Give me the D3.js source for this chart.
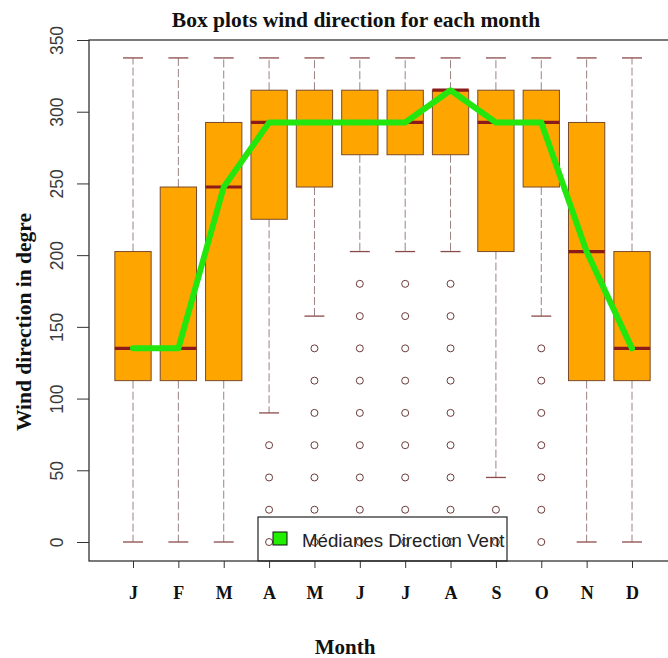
<!DOCTYPE html>
<html>
<head>
<meta charset="utf-8">
<script src="https://cdn.jsdelivr.net/npm/d3@7"></script>
<style>
  body { margin: 0; background: #ffffff; }
  svg { display: block; }
</style>
</head>
<body>
<svg id="chart" width="668" height="658"></svg>
<script>
// Monthly wind direction statistics (degrees)
const months = ["J", "F", "M", "A", "M", "J", "J", "A", "S", "O", "N", "D"];
const whiskerLow  = [0, 0, 0, 90, 157.5, 202.5, 202.5, 202.5, 45, 157.5, 0, 0];
const q1          = [112.5, 112.5, 112.5, 225, 247.5, 270, 270, 270, 202.5, 247.5, 112.5, 112.5];
const medians     = [135, 135, 247.5, 292.5, 292.5, 292.5, 292.5, 315, 292.5, 292.5, 202.5, 135];
const q3          = [202.5, 247.5, 292.5, 315, 315, 315, 315, 315, 315, 315, 292.5, 202.5];
const whiskerHigh = [337.5, 337.5, 337.5, 337.5, 337.5, 337.5, 337.5, 337.5, 337.5, 337.5, 337.5, 337.5];
const outliers = [
  [], [], [],
  [67.5, 45, 22.5, 0],
  [135, 112.5, 90, 67.5, 45, 22.5, 0],
  [180, 157.5, 135, 112.5, 90, 67.5, 45, 22.5, 0],
  [180, 157.5, 135, 112.5, 90, 67.5, 45, 22.5, 0],
  [180, 157.5, 135, 112.5, 90, 67.5, 45, 22.5, 0],
  [22.5, 0],
  [135, 112.5, 90, 67.5, 45, 22.5, 0],
  [], []
];
const yTicks = [0, 50, 100, 150, 200, 250, 300, 350];
const legendLabel = "Médianes Direction Vent";

const svg = d3.select("#chart");
const plot = { left: 89, top: 40, right: 690, bottom: 561 };

const idx = d3.range(months.length);
const x = d3.scalePoint().domain(idx).range([133, 632]);
const step = x.step();
const boxW = step * 0.8;
const capW = step * 0.44;
const y = d3.scaleLinear().domain([0, 350]).range([542, 40]);

const serif = "'Liberation Serif', 'DejaVu Serif', serif";
const sans = "'Liberation Sans', Arial, sans-serif";

// Title
svg.append("text")
  .attr("x", 356).attr("y", 27)
  .attr("text-anchor", "middle")
  .attr("font-family", serif).attr("font-weight", "bold").attr("font-size", 21.5)
  .attr("fill", "#111")
  .text("Box plots wind direction for each month");

// Frame (right side runs past the page edge)
svg.append("rect")
  .attr("x", plot.left).attr("y", plot.top)
  .attr("width", plot.right - plot.left).attr("height", plot.bottom - plot.top)
  .attr("fill", "none").attr("stroke", "#222").attr("stroke-width", 1.2);

// Y axis
const yAxis = d3.axisLeft(y).tickValues(yTicks).tickSize(12).tickPadding(0);
const gy = svg.append("g").attr("transform", `translate(${plot.left},0)`).call(yAxis);
gy.select(".domain").remove();
gy.selectAll(".tick line").attr("stroke", "#333");
gy.selectAll(".tick text")
  .attr("font-family", sans).attr("font-size", 17.5).attr("fill", "#3a3a3a")
  .attr("text-anchor", "middle")
  .attr("x", 0).attr("y", 0).attr("dy", "0.35em")
  .attr("transform", "translate(-32,0) rotate(-90)");

// X axis
const xAxis = d3.axisBottom(x).tickFormat(i => months[i]).tickSize(7).tickPadding(0);
const gx = svg.append("g").attr("transform", `translate(0,${plot.bottom})`).call(xAxis);
gx.select(".domain").remove();
gx.selectAll(".tick line").attr("stroke", "#333");
gx.selectAll(".tick text")
  .attr("font-family", serif).attr("font-weight", "bold").attr("font-size", 18)
  .attr("fill", "#111").attr("y", 38).attr("dy", 0);

// Axis titles
svg.append("text")
  .attr("x", 345).attr("y", 654)
  .attr("text-anchor", "middle")
  .attr("font-family", serif).attr("font-weight", "bold").attr("font-size", 21)
  .attr("fill", "#111").text("Month");
svg.append("text")
  .attr("transform", "translate(31,322) rotate(-90)")
  .attr("text-anchor", "middle")
  .attr("font-family", serif).attr("font-weight", "bold").attr("font-size", 21.5)
  .attr("fill", "#111").text("Wind direction in degre");

// Box plots
const boxes = svg.append("g").selectAll("g").data(idx).join("g");
const whiskerColor = "#9a8282";
boxes.append("line")
  .attr("x1", i => x(i)).attr("x2", i => x(i))
  .attr("y1", i => y(q3[i])).attr("y2", i => y(whiskerHigh[i]))
  .attr("stroke", whiskerColor).attr("stroke-dasharray", "8,3");
boxes.append("line")
  .attr("x1", i => x(i)).attr("x2", i => x(i))
  .attr("y1", i => y(q1[i])).attr("y2", i => y(whiskerLow[i]))
  .attr("stroke", whiskerColor).attr("stroke-dasharray", "8,3");
boxes.append("line")
  .attr("x1", i => x(i) - capW / 2).attr("x2", i => x(i) + capW / 2)
  .attr("y1", i => y(whiskerHigh[i])).attr("y2", i => y(whiskerHigh[i]))
  .attr("stroke", "#8b4a4a").attr("stroke-width", 1.3);
boxes.append("line")
  .attr("x1", i => x(i) - capW / 2).attr("x2", i => x(i) + capW / 2)
  .attr("y1", i => y(whiskerLow[i])).attr("y2", i => y(whiskerLow[i]))
  .attr("stroke", "#8b4a4a").attr("stroke-width", 1.3);
boxes.append("rect")
  .attr("x", i => x(i) - boxW / 2).attr("width", boxW)
  .attr("y", i => y(q3[i])).attr("height", i => y(q1[i]) - y(q3[i]))
  .attr("fill", "#ffa500").attr("stroke", "#7a4a2a").attr("stroke-width", 1);
boxes.append("line")
  .attr("x1", i => x(i) - boxW / 2).attr("x2", i => x(i) + boxW / 2)
  .attr("y1", i => y(medians[i])).attr("y2", i => y(medians[i]))
  .attr("stroke", "#8b1a1a").attr("stroke-width", 3.2);

// Outliers
boxes.selectAll("circle")
  .data(i => outliers[i].map(v => ({ i, v })))
  .join("circle")
  .attr("cx", d => x(d.i)).attr("cy", d => y(d.v)).attr("r", 3.5)
  .attr("fill", "none").attr("stroke", "#6b3a3a").attr("stroke-width", 1);

// Median line across months
svg.append("path")
  .datum(idx)
  .attr("d", d3.line().x(i => x(i)).y(i => y(medians[i])))
  .attr("fill", "none").attr("stroke", "#22e60e").attr("stroke-width", 6)
  .attr("stroke-linejoin", "round").attr("stroke-linecap", "round");

// Legend (transparent box)
const lg = svg.append("g");
lg.append("rect")
  .attr("x", 258).attr("y", 517).attr("width", 249).attr("height", 44)
  .attr("fill", "none").attr("stroke", "#222").attr("stroke-width", 1.2);
lg.append("rect")
  .attr("x", 273).attr("y", 532).attr("width", 14).attr("height", 13)
  .attr("fill", "#22ee00").attr("stroke", "#111").attr("stroke-width", 1);
lg.append("text")
  .attr("x", 302).attr("y", 547)
  .attr("font-family", sans).attr("font-size", 18.7).attr("fill", "#222")
  .text(legendLabel);
</script>
</body>
</html>
